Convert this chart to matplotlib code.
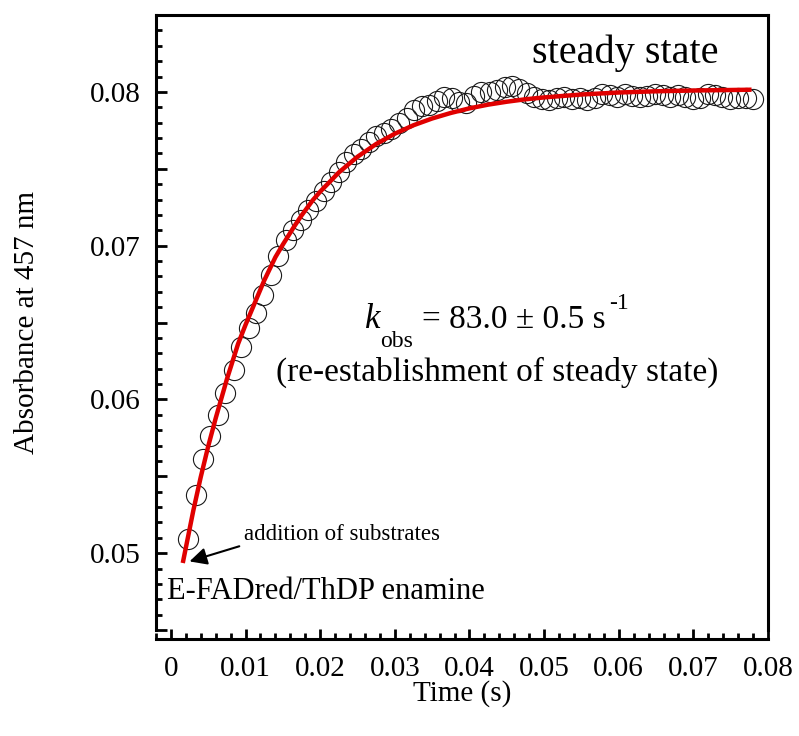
import matplotlib
matplotlib.use("Agg")
import matplotlib.pyplot as plt
from matplotlib.ticker import MultipleLocator, FuncFormatter

plt.rcParams['font.family'] = ['Liberation Serif', 'DejaVu Serif']

# measured absorbance (time in ms)
time_ms = [2.3, 3.3, 4.3, 5.3, 6.3, 7.3, 8.4, 9.4, 10.4, 11.4, 12.4, 13.4, 14.4, 15.4,
           16.4, 17.4, 18.4, 19.5, 20.5, 21.5, 22.5, 23.5, 24.5, 25.5, 26.5, 27.5, 28.5,
           29.5, 30.5, 31.6, 32.6, 33.6, 34.6, 35.6, 36.6, 37.6, 38.6, 39.6, 40.6, 41.6,
           42.7, 43.7, 44.7, 45.7, 46.7, 47.7, 48.7, 49.7, 50.7, 51.7, 52.7, 53.8, 54.8,
           55.8, 56.8, 57.8, 58.8, 59.8, 60.8, 61.8, 62.8, 63.8, 64.8, 65.9, 66.9, 67.9,
           68.9, 69.9, 70.9, 71.9, 72.9, 73.9, 74.9, 76.0, 77.0, 78.0]
absorbance = [0.05094, 0.05380, 0.05610, 0.05764, 0.05896, 0.06044, 0.06193, 0.06340,
              0.06462, 0.06564, 0.06677, 0.06807, 0.06930, 0.07035, 0.07100, 0.07165,
              0.07230, 0.07290, 0.07353, 0.07414, 0.07479, 0.07544, 0.07599, 0.07631,
              0.07674, 0.07710, 0.07735, 0.07760, 0.07800, 0.07830, 0.07880, 0.07905,
              0.07913, 0.07940, 0.07965, 0.07960, 0.07935, 0.07925, 0.07975, 0.08000,
              0.08000, 0.08015, 0.08035, 0.08040, 0.08020, 0.07990, 0.07965, 0.07955,
              0.07950, 0.07962, 0.07970, 0.07956, 0.07960, 0.07950, 0.07962, 0.07985,
              0.07978, 0.07970, 0.07985, 0.07975, 0.07968, 0.07975, 0.07985, 0.07978,
              0.07968, 0.07980, 0.07965, 0.07955, 0.07960, 0.07985, 0.07978, 0.07965,
              0.07955, 0.07960, 0.07962, 0.07955]

# single exponential fit curve
fit_time_ms = [1.65, 2.5, 3.0, 4.0, 5.0, 6.0, 7.5, 9.0, 10.0, 11.0, 12.5, 14.0, 15.0, 16.5,
               17.5, 19.0, 20.0, 22.5, 25.0, 27.5, 30.0, 32.5, 35.0, 37.5, 40.0, 42.5,
               45.0, 47.5, 50.0, 55.0, 60.0, 65.0, 70.0, 77.5]
fit_abs = [0.04950, 0.05155, 0.05276, 0.05495, 0.05695, 0.05877, 0.06131, 0.06361,
           0.06485, 0.06600, 0.06773, 0.06925, 0.07007, 0.07123, 0.07196, 0.07295,
           0.07351, 0.07476, 0.07578, 0.07661, 0.07728, 0.07783, 0.07827, 0.07863,
           0.07893, 0.07917, 0.07936, 0.07952, 0.07964, 0.07983, 0.07996, 0.08004,
           0.08009, 0.08014]

fig = plt.figure(figsize=(7.99, 7.36), dpi=100)
ax = fig.add_axes([0.1952, 0.144, 0.766, 0.8356])

ax.plot([t / 1000 for t in time_ms], absorbance, 'o', ms=14.5, mfc='none', mec='#1a1a1a',
        mew=0.8, zorder=2)
ax.plot([t / 1000 for t in fit_time_ms], fit_abs, color='#e00000', lw=3.2, zorder=3)

ax.set_xlim(-0.002, 0.08)
ax.set_ylim(0.045, 0.085)

ax.xaxis.set_major_locator(MultipleLocator(0.01))
ax.xaxis.set_minor_locator(MultipleLocator(0.002))
ax.yaxis.set_major_locator(MultipleLocator(0.005))
ax.yaxis.set_minor_locator(MultipleLocator(0.001))


def xfmt(v, pos):
    if abs(v) < 1e-9:
        return '0'
    return f'{v:.2f}'


def yfmt(v, pos):
    if abs(round(v * 100) - v * 100) < 1e-6:
        return f'{v:.2f}'
    return ''


ax.xaxis.set_major_formatter(FuncFormatter(xfmt))
ax.yaxis.set_major_formatter(FuncFormatter(yfmt))

for s in ax.spines.values():
    s.set_linewidth(2.2)
ax.spines['bottom'].set_position(('outward', 6.5))

ax.tick_params(which='both', direction='in', width=2.0, labelsize=21,
               top=False, right=False)
ax.tick_params(axis='y', which='major', length=8, pad=11)
ax.tick_params(axis='y', which='minor', length=4)
ax.tick_params(axis='x', which='major', length=7, pad=12)
ax.tick_params(axis='x', which='minor', length=4)

ax.set_xlabel('Time (s)', fontsize=21)
ax.set_ylabel('Absorbance at 457 nm', fontsize=21)
ax.xaxis.set_label_coords(0.5, -0.082)
ax.yaxis.set_label_coords(-0.19, 0.5)

ax.text(0.0734, 0.08186, 'steady state', fontsize=29, ha='right', va='baseline')

# k_obs line built from pieces so the subscript sits low like the original
ax.text(0.02605, 0.06462, 'k', fontsize=25, style='italic', ha='left', va='baseline')
ax.text(0.02804, 0.06338, 'obs', fontsize=17, ha='left', va='baseline')
ax.text(0.03365, 0.06462, '= 83.0 ± 0.5 s', fontsize=24, ha='left', va='baseline')
ax.text(0.05870, 0.06590, '-1', fontsize=17, ha='left', va='baseline')
ax.text(0.04374, 0.06124, '(re-establishment of steady state)', fontsize=24,
        ha='center', va='baseline')

ax.text(0.00973, 0.05087, 'addition of substrates', fontsize=16.5, ha='left',
        va='baseline')
ax.annotate('', xy=(0.00214, 0.04941), xytext=(0.00952, 0.0505),
            arrowprops=dict(arrowstyle='-|>', color='black', lw=1.5, mutation_scale=26))
ax.text(-0.00054, 0.04703, 'E-FADred/ThDP enamine', fontsize=22, ha='left',
        va='baseline')

fig.savefig('out.png', dpi=100)
